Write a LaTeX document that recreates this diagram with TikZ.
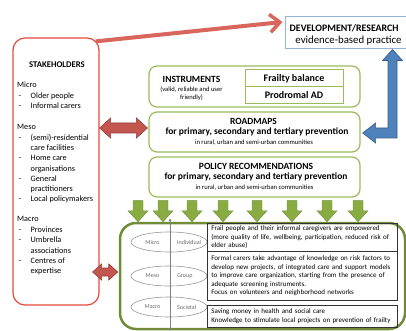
\documentclass[tikz,border=0pt]{standalone}
\usepackage{fontspec}
\setmainfont{Carlito}
\usetikzlibrary{calc,arrows.meta,shapes.geometric}
\definecolor{stakered}{RGB}{230,72,58}
\definecolor{linered}{RGB}{216,102,92}
\definecolor{blockred}{RGB}{196,86,80}
\definecolor{blockredD}{RGB}{150,58,54}
\definecolor{lgreen}{RGB}{155,187,89}
\definecolor{dgreen}{RGB}{112,140,56}
\definecolor{agreen}{RGB}{136,172,66}
\definecolor{agreenD}{RGB}{110,140,55}
\definecolor{blueA}{RGB}{79,129,189}
\definecolor{blueD}{RGB}{56,93,138}
\definecolor{devblue}{RGB}{149,179,215}
\definecolor{ellgray}{RGB}{150,150,150}
\definecolor{txtgray}{RGB}{105,105,105}
\newcommand{\dsh}{\makebox[13.5pt][l]{\hspace{1.3pt}-}}
\newcommand{\ind}{\hspace*{13.5pt}}
\newcommand{\hdbl}[6]{%
  \filldraw[#6] (#1) -- ($(#1)+(#3,-#4)$) -- ($(#1)+(#3,-#5)$) -- ($(#2)+(-#3,-#5)$) -- ($(#2)+(-#3,-#4)$) -- (#2) -- ($(#2)+(-#3,#4)$) -- ($(#2)+(-#3,#5)$) -- ($(#1)+(#3,#5)$) -- ($(#1)+(#3,#4)$) -- cycle;}
\newcommand{\vdown}[2]{%
  \filldraw[greenarrow] ($(#1)+(-5,0)$) -- ($(#2)+(-5,-11)$) -- ($(#2)+(-10,-11)$) -- (#2) -- ($(#2)+(10,-11)$) -- ($(#2)+(5,-11)$) -- ($(#1)+(5,0)$) -- cycle;}
\begin{document}
\begin{tikzpicture}[x=1pt,y=-1pt,
  stakebox/.style={draw=stakered,line width=1.2pt,rounded corners=12pt,inner sep=0},
  greenbox/.style={draw=lgreen,line width=1.2pt,rounded corners=8pt,inner sep=0},
  innerbox/.style={draw=lgreen,line width=1pt,inner sep=0,font=\fontsize{10}{11}\selectfont\bfseries},
  bigbox/.style={draw=dgreen,line width=2.5pt,rounded corners=16pt,inner sep=0},
  devbox/.style={draw=devblue,line width=1pt,fill=white,inner sep=0},
  ell/.style={draw=ellgray,line width=0.6pt,ellipse,inner sep=0},
  cell/.style={draw=black!80,line width=0.6pt,inner xsep=4pt,inner ysep=0pt,align=left,
    font=\fontsize{7}{8.6}\selectfont,text width=182pt,anchor=north west},
  titletext/.style={font=\fontsize{9.5}{11}\selectfont\bfseries,inner sep=0},
  smalltext/.style={font=\fontsize{6.6}{8}\selectfont,inner sep=0},
  listtext/.style={font=\fontsize{8.2}{10}\selectfont,inner sep=0,anchor=base west},
  lvl/.style={font=\fontsize{6}{7}\selectfont,text=txtgray,inner sep=0},
  redblock/.style={fill=blockred,draw=blockredD,line width=0.6pt},
  greenarrow/.style={fill=agreen,draw=agreenD,line width=0.4pt},
  bluearrow/.style={fill=blueA,draw=blueD,line width=0.6pt},
]
\useasboundingbox (0,0) rectangle (406,331);
\clip (0,0) rectangle (406,331);

% stakeholders
\node[stakebox,minimum width=86pt,minimum height=267pt] (stake) at (56,171.5) {};
\node[titletext,font=\fontsize{8.7}{10}\selectfont\bfseries] (stitle) at (57,65) {STAKEHOLDERS};
\foreach \yy/\tt [count=\i] in {84.5/Micro, 95.3/\dsh Older people, 106/\dsh Informal carers,
  127/Meso, 137.3/\dsh (semi)-residential, 147.6/\ind care facilities, 157.9/\dsh Home care,
  168.2/\ind organisations, 178.5/\dsh General, 188.8/\ind practitioners, 199.1/\dsh Local policymakers,
  219/Macro, 229.4/\dsh Provinces, 239.8/\dsh Umbrella, 250.2/\ind associations, 260.6/\dsh Centres of, 271/\ind expertise}{
  \node[listtext] (sl\i) at (17,\yy+2.8) {\tt};
}

% development box
\node[devbox,minimum width=135pt,minimum height=32pt] (dev) at (352.5,33) {};
\node[inner sep=0,anchor=west,font=\fontsize{9.9}{12}\selectfont\bfseries] (devt) at (289.5,28) {DEVELOPMENT/RESEARCH};
\node[inner sep=0,font=\fontsize{10.8}{12}\selectfont] (devs) at (348.5,41) {evidence-based practice};

% instruments
\node[greenbox,minimum width=211pt,minimum height=41pt] (instr) at (254.5,86.5) {};
\node[titletext] (instrt) at (191.5,79) {INSTRUMENTS};
\node[smalltext,align=center,font=\fontsize{6.6}{8.4}\selectfont] (instrs) at (191.5,93.5) {(valid, reliable and user\\friendly)};
\node[innerbox,minimum width=98pt,minimum height=17pt] (frail) at (294,78.5) {Frailty balance};
\node[innerbox,minimum width=98pt,minimum height=17pt] (prod) at (294,95.5) {Prodromal AD};

% roadmaps
\node[greenbox,minimum width=211pt,minimum height=40pt] (road) at (254.5,132) {};
\node[titletext] (roadt) at (253.5,121) {ROADMAPS};
\node[titletext] (roads) at (257,132) {for primary, secondary and tertiary prevention};
\node[smalltext] (roadc) at (254,142.5) {in rural, urban and semi-urban communities};

% policy
\node[greenbox,minimum width=211pt,minimum height=40pt] (policy) at (254.5,177) {};
\node[titletext] (polt) at (256,166.5) {POLICY RECOMMENDATIONS};
\node[titletext] (pols) at (256,177) {for primary, secondary and tertiary prevention};
\node[smalltext] (polc) at (254.5,188) {in rural, urban and semi-urban communities};

% outcomes box
\node[bigbox,minimum width=285pt,minimum height=106pt] (outc) at (262.5,276) {};
\node[ell,minimum width=76pt,minimum height=20pt] (e1) at (169,242) {};
\node[ell,minimum width=76pt,minimum height=20pt] (e2) at (169,276) {};
\node[ell,minimum width=76pt,minimum height=20pt] (e3) at (169,307) {};
\node[lvl] (l1a) at (152.5,242) {Micro};
\node[lvl] (l2a) at (152.5,276) {Meso};
\node[lvl] (l3a) at (152.5,307) {Macro};
\node[lvl,anchor=west] (l1b) at (177,242) {Individual};
\node[lvl,anchor=west] (l2b) at (177,276) {Group};
\node[lvl,anchor=west] (l3b) at (177,307) {Societal};
\coordinate (axtop) at (170,218);
\coordinate (axbot) at (170,331);
\draw[gray,line width=0.6pt,{Latex[length=3pt,width=3pt]}-{Latex[length=3pt,width=3pt]}] (axtop) -- (axbot);

\node[cell,minimum height=28pt] (r1) at (207,223) {Frail people and their informal caregivers are empowered\\(more quality of life, wellbeing, participation, reduced risk of\\elder abuse)};
\node[cell,minimum height=49pt] (r2) at (207,251) {Formal carers take advantage of knowledge on risk factors to\\develop new projects, of integrated care and support models\\to improve care organization, starting from the presence of\\adequate screening instruments.\\Focus on volunteers and neighborhood networks};
\node[cell,minimum height=22pt] (r3) at (207,305) {Saving money in health and social care\\Knowledge to stimulate local projects on prevention of frailty};

% green down arrows
\foreach \x [count=\i] in {138,163,192,223,257,292,327,358}{
  \coordinate (ax\i) at (\x,0);
  \coordinate (dt\i) at ($(policy.south -| ax\i)+(0,3)$);
  \coordinate (db\i) at (outc.north -| ax\i);
  \vdown{dt\i}{db\i}
}

% red double arrows
\coordinate (ylev1) at (0,128);
\coordinate (ylev2) at (0,272);
\coordinate (ra1) at (stake.east |- ylev1);
\coordinate (rb1) at ($(road.west |- ylev1)+(-1,0)$);
\hdbl{ra1}{rb1}{11}{10}{5}{redblock}
\coordinate (ra2) at ($(stake.east |- ylev2)+(-7,0)$);
\coordinate (rb2) at ($(outc.west |- ylev2)+(-1,0)$);
\hdbl{ra2}{rb2}{9}{8}{4}{redblock}

% blue arrow
\coordinate (bx) at (392.5,0);
\coordinate (bT) at (dev.south -| bx);
\coordinate (bL) at ($(road.east)+(2,1)$);
\coordinate (bC) at (bL -| bT);
\filldraw[bluearrow] (bT) -- ($(bT)+(10,11)$) -- ($(bT)+(4.5,11)$) -- ($(bC)+(4.5,5)$) -- ($(bL)+(13,5)$) -- ($(bL)+(13,10)$) -- (bL) -- ($(bL)+(13,-10)$) -- ($(bL)+(13,-5)$) -- ($(bC)+(-4.5,-5)$) -- ($(bT)+(-4.5,11)$) -- ($(bT)+(-10,11)$) -- cycle;

% red line arrow
\draw[linered,line width=4pt,-{Straight Barb[length=10pt,width=18pt,line width=3.5pt]}] ($(stake.north east)+(-4,4)$) -- ($(dev.west)+(-2,-11)$);
\end{tikzpicture}
\end{document}
